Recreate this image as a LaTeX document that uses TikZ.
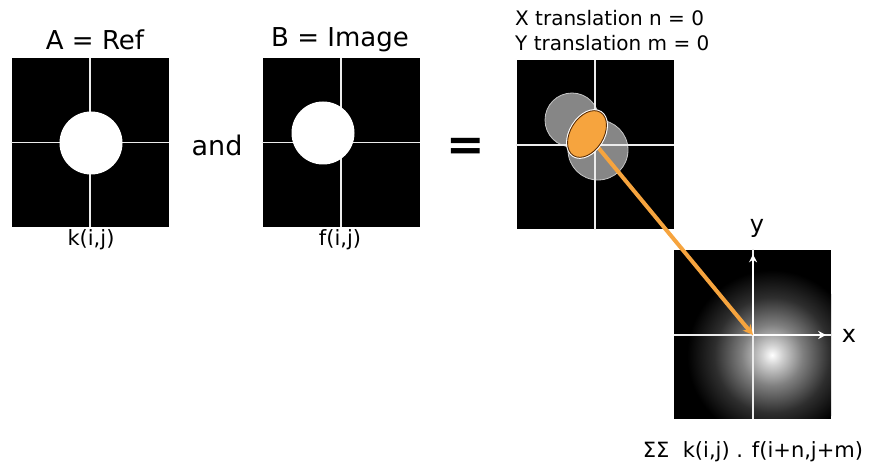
\documentclass[tikz,border=0pt]{standalone}
\usepackage{fontspec}
\setmainfont{DejaVu Sans}
\usetikzlibrary{arrows.meta,shapes.geometric}
\definecolor{probe}{RGB}{246,164,62}
\definecolor{probeedge}{RGB}{90,45,5}
\pgfdeclareradialshading{peakglow}{\pgfpoint{0bp}{0bp}}{color(0bp)=(white); color(3bp)=(white!82!black); color(9bp)=(white!50!black); color(17bp)=(white!18!black); color(25bp)=(black); color(50bp)=(black)}

\begin{document}
\begin{tikzpicture}[
  x=1pt, y=-1pt,
  >=Stealth,
  panel/.style={fill=black, minimum width=157pt, minimum height=169pt, inner sep=0pt},
  grid/.style={white!85!gray, line width=1.3pt},
  spot/.style={circle, fill=white, minimum size=63pt, inner sep=0pt},
  ghost/.style={circle, fill=gray!95!white, draw=gray!45, line width=0.8pt, inner sep=0pt},
  overlap/.style={ellipse, fill=probe, draw=probeedge, line width=0.9pt,
    preaction={draw=white, line width=3pt}, minimum width=51pt, minimum height=33pt,
    rotate=58, inner sep=0pt},
  link/.style={-{Stealth[length=10pt,width=10pt]}, probe, line width=4pt},
  axisarrow/.style={-{Stealth[length=8pt,width=8pt]}, white, line width=1.5pt},
  title/.style={font=\fontsize{26}{30}\selectfont},
  caption/.style={font=\fontsize{21}{24}\selectfont},
  shiftnote/.style={font=\fontsize{20}{24}\selectfont, anchor=west, inner sep=0pt}
]
  \useasboundingbox (0,0) rectangle (877,470);

  % reference and image
  \node[panel] (refpanel) at (90,142.5) {};
  \draw[grid] (refpanel.north) -- (refpanel.south);
  \draw[grid] (refpanel.west) -- (refpanel.east);
  \node[spot] (refspot) at (91,143) {};
  \node[title] (reftitle) at (95,40) {A = Ref};
  \node[caption] (refcaption) at (91,240) {k(i,j)};

  \node[font=\fontsize{27}{32}\selectfont] (andword) at (217,145) {and};

  \node[panel] (imgpanel) at (341,142.5) {};
  \draw[grid] (imgpanel.north) -- (imgpanel.south);
  \draw[grid] (imgpanel.west) -- (imgpanel.east);
  \node[spot] (imgspot) at (323,133) {};
  \node[title] (imgtitle) at (340,40) {B = Image};
  \node[caption] (imgcaption) at (340,240) {f(i,j)};

  \node[font=\fontsize{46}{50}\bfseries\selectfont] (equals) at (466,149) {=};

  % shifted overlap for n = m = 0
  \node[shiftnote] (xshift) at (515,18) {X translation n = 0};
  \node[shiftnote] (yshift) at (515,43) {Y translation m = 0};
  \node[panel] (overlappanel) at (595,145) {};
  \node[ghost, minimum size=54pt] (refghost) at (572,120) {};
  \node[ghost, minimum size=60pt] (imgghost) at (598,150) {};
  \draw[grid] (overlappanel.north) -- (overlappanel.south);
  \draw[grid] (overlappanel.west) -- (overlappanel.east);

  % correlation surface
  \node[panel] (corrpanel) at (752.5,334) {};
  \begin{scope}
    \clip (corrpanel.south west) rectangle (corrpanel.north east);
    \shade[shading=peakglow] (772,355) circle (85);
  \end{scope}
  \coordinate (origin) at (753,335);
  \draw[grid] (corrpanel.north -| origin) -- (corrpanel.south -| origin);
  \draw[grid] (corrpanel.west |- origin) -- (corrpanel.east |- origin);
  \draw[axisarrow] (origin) -- ([yshift=-5pt]corrpanel.north -| origin);
  \draw[axisarrow] (origin) -- ([xshift=-5pt]corrpanel.east |- origin);
  \node[font=\fontsize{24}{28}\selectfont] (ylabel) at (757,228) {y};
  \node[font=\fontsize{24}{28}\selectfont] (xlabel) at (849,336) {x};

  \coordinate (overlapcentre) at (587,134);
  \draw[link] (overlapcentre) -- (origin);
  \node[overlap] (overlap) at (overlapcentre) {};

  \node[caption] (sumlabel) at (753,452) {ΣΣ\ \ k(i,j) . f(i+n,j+m)};
\end{tikzpicture}
\end{document}
